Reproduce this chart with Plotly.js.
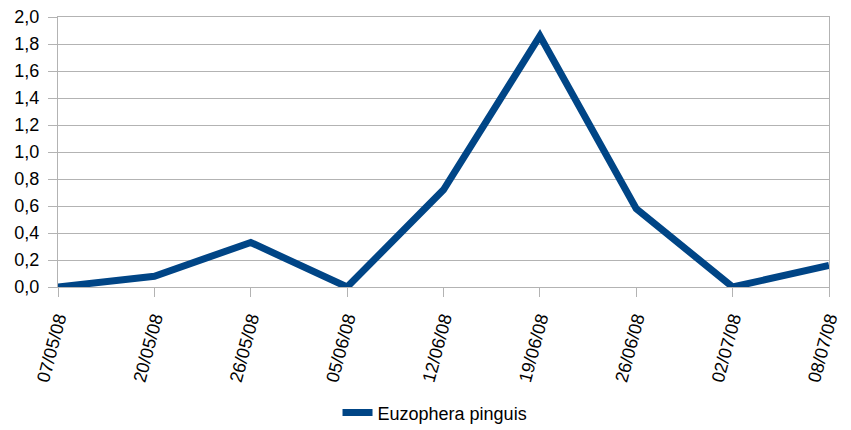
<!DOCTYPE html>
<html>
<head>
<meta charset="utf-8">
<script src="https://cdn.plot.ly/plotly-3.0.1.min.js"></script>
<style>html,body{margin:0;padding:0;background:#fff;}#chart{width:851px;height:430px;}</style>
</head>
<body>
<div id="chart"></div>
<script>
const dates = ["07/05/08","20/05/08","26/05/08","05/06/08","12/06/08","19/06/08","26/06/08","02/07/08","08/07/08"];
const values = [0, 0.08, 0.33, 0, 0.72, 1.86, 0.58, 0, 0.16];
const seriesName = "Euzophera pinguis";

const gridColor = "#b3b3b3";
const font = {family: "Liberation Sans, Arial, sans-serif", size: 18, color: "#000"};

Plotly.newPlot("chart", [{
  x: dates,
  y: values,
  type: "scatter",
  mode: "lines",
  name: seriesName,
  line: {color: "#004586", width: 7}
}], {
  width: 851, height: 430,
  margin: {l: 58, r: 22, t: 17, b: 143, autoexpand: false},
  paper_bgcolor: "#fff",
  plot_bgcolor: "#fff",
  separators: ",.",
  font: font,
  showlegend: true,
  legend: {orientation: "h", x: 0.489, xanchor: "center", yref: "container", y: 0.04, yanchor: "middle", font: font},
  xaxis: {
    type: "category",
    automargin: false,
    range: [0, dates.length - 1],
    tickangle: -75,
    ticklabelstandoff: 4,
    ticks: "outside", ticklen: 9, tickcolor: gridColor, tickwidth: 1,
    showgrid: false,
    showline: true, linecolor: gridColor, linewidth: 1, mirror: true,
    zeroline: false,
    tickfont: font
  },
  yaxis: {
    automargin: false,
    range: [0, 2],
    dtick: 0.2,
    tickformat: ".1f",
    ticklabelstandoff: 5,
    ticks: "outside", ticklen: 9, tickcolor: gridColor, tickwidth: 1,
    showgrid: true, gridcolor: gridColor, gridwidth: 1,
    showline: true, linecolor: gridColor, linewidth: 1, mirror: true,
    zeroline: false,
    tickfont: font
  }
}, {staticPlot: true});
</script>
</body>
</html>
